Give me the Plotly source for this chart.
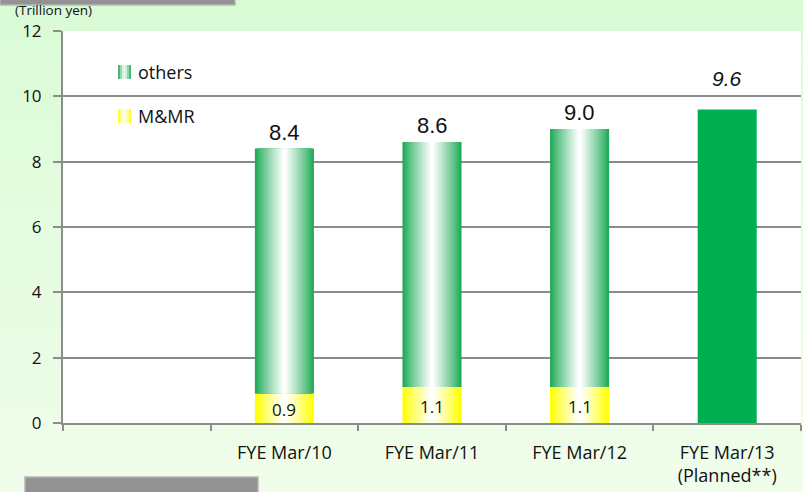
import plotly.graph_objects as go

# ---------------------------------------------------------------------------
# Data
# ---------------------------------------------------------------------------

categories = ["", "FYE Mar/10", "FYE Mar/11", "FYE Mar/12", "FYE Mar/13<br>(Planned**)"]
actual_years = ["FYE Mar/10", "FYE Mar/11", "FYE Mar/12"]
mmr_values = [0.9, 1.1, 1.1]
total_values = [8.4, 8.6, 9.0]
planned_year = ["FYE Mar/13<br>(Planned**)"]
planned_total = [9.6]

others_values = [round(t - m, 2) for t, m in zip(total_values, mmr_values)]

# ---------------------------------------------------------------------------
# Style helpers
# ---------------------------------------------------------------------------

GREEN = (31, 171, 87)
YELLOW = (255, 255, 0)
WHITE = (255, 255, 255)
BG_TOP = (218, 251, 214)
BG_BOTTOM = (240, 253, 234)
PLANNED_GREEN = "#00b050"
GRID = "#8c8c8c"
FONT = "Open Sans, Lato"
BAR_WIDTH = 0.4
STEPS = 16

W, H = 803, 492
# plot area in pixels (for paper-coordinate decorations)
PL, PR, PT, PB = 63, 801, 31, 423


def mix(c1, c2, t):
    return "rgb({},{},{})".format(*[round(a + (b - a) * t) for a, b in zip(c1, c2)])


def px_x(x):
    return (x - PL) / (PR - PL)


def px_y(y):
    return (PB - y) / (PB - PT)


def gradient_bars(fig, x, y, base, edge):
    """Horizontal edge->white->edge gradient faked with overlaid bars."""
    for k in range(STEPS):
        t = k / (STEPS - 1)
        fig.add_trace(
            go.Bar(
                x=x,
                y=y,
                base=base,
                width=BAR_WIDTH * (1 - k / STEPS),
                marker=dict(color=mix(edge, WHITE, t ** 0.9), line=dict(width=0)),
                showlegend=False,
                hoverinfo="skip",
            )
        )


fig = go.Figure()

# invisible trace so the empty first category keeps its slot
fig.add_trace(go.Bar(x=categories, y=[None] * len(categories), showlegend=False, hoverinfo="skip"))

gradient_bars(fig, actual_years, mmr_values, [0] * len(mmr_values), YELLOW)
gradient_bars(fig, actual_years, others_values, mmr_values, GREEN)

fig.add_trace(
    go.Bar(
        x=planned_year,
        y=planned_total,
        width=BAR_WIDTH,
        marker=dict(color=PLANNED_GREEN, line=dict(width=0)),
        showlegend=False,
        hoverinfo="skip",
    )
)

annotations = []
for x, t in zip(actual_years, total_values):
    annotations.append(dict(
        x=x, y=t, text=f"{t:.1f}", showarrow=False, yanchor="bottom", yshift=2,
        font=dict(family="Liberation Sans, Arial", size=22, color="#111"),
    ))
for x, t in zip(planned_year, planned_total):
    annotations.append(dict(
        x=x, y=t, text=f"<i>{t:.1f}</i>", showarrow=False, yanchor="bottom", yshift=17,
        font=dict(family="Liberation Sans, Arial", size=21, color="#111"),
    ))
for x, m in zip(actual_years, mmr_values):
    annotations.append(dict(
        x=x, y=m / 2, text=f"{m:.1f}", showarrow=False, yanchor="middle", yshift=-1,
        font=dict(family=FONT, size=17, color="#111"),
    ))

annotations.append(dict(
    xref="paper", yref="paper", x=px_x(13), y=px_y(9.5), xanchor="left", yanchor="middle",
    text="(Trillion yen)", showarrow=False,
    font=dict(family=FONT, size=13.5, color="#111"),
))

shapes = []

# soft vertical background gradient, then white plot area on top of it
BANDS = 24
for i in range(BANDS):
    shapes.append(dict(
        type="rect", xref="paper", yref="paper",
        x0=px_x(0), x1=px_x(W), y0=px_y(H * (i + 1) / BANDS), y1=px_y(H * i / BANDS),
        fillcolor=mix(BG_TOP, BG_BOTTOM, i / (BANDS - 1)), line=dict(width=0), layer="below",
    ))
shapes.append(dict(
    type="rect", xref="paper", yref="paper", x0=0, x1=1, y0=0, y1=1,
    fillcolor="white", line=dict(width=0), layer="below",
))

# hand-drawn legend
for label, edge, ytop in [("others", GREEN, 65), ("M&MR", YELLOW, 109)]:
    n = 6
    x0, x1 = 118, 131
    for i in range(n):
        c = abs((i + 0.5) / n - 0.5) * 2
        shapes.append(dict(
            type="rect", xref="paper", yref="paper",
            x0=px_x(x0 + (x1 - x0) * i / n), x1=px_x(x0 + (x1 - x0) * (i + 1) / n),
            y0=px_y(ytop + 14), y1=px_y(ytop),
            fillcolor=mix(WHITE, edge, c), line=dict(width=0),
        ))
    annotations.append(dict(
        xref="paper", yref="paper", x=px_x(136), y=px_y(ytop + 7), xanchor="left",
        yanchor="middle", text=label, showarrow=False,
        font=dict(family=FONT, size=18, color="#111"),
    ))

# decorative grey bars top and bottom left
for (x0, x1, y0, y1) in [(0, 235, -2, 5), (25, 258, 477, 494)]:
    shapes.append(dict(
        type="rect", xref="paper", yref="paper",
        x0=px_x(x0), x1=px_x(x1), y0=px_y(y1), y1=px_y(y0),
        fillcolor="#929292", line=dict(color="#b5b5b5", width=1.5), layer="below",
    ))

fig.update_layout(
    width=W,
    height=H,
    barmode="overlay",
    paper_bgcolor=mix(BG_TOP, BG_BOTTOM, 0.5),
    plot_bgcolor="white",
    margin=dict(l=PL, r=W - PR, t=PT, b=H - PB),
    annotations=annotations,
    shapes=shapes,
    xaxis=dict(
        categoryorder="array",
        categoryarray=categories,
        range=[-0.5, 4.5],
        tickson="boundaries",
        ticks="outside",
        ticklen=6,
        tickcolor=GRID,
        tickwidth=1.5,
        ticklabelstandoff=12,
        showline=True,
        linecolor=GRID,
        linewidth=2,
        showgrid=False,
        tickfont=dict(family=FONT, size=18, color="#111"),
    ),
    yaxis=dict(
        range=[0, 12],
        dtick=2,
        ticks="outside",
        ticklen=8,
        tickcolor=GRID,
        tickwidth=1.5,
        ticklabelstandoff=8,
        showline=True,
        linecolor=GRID,
        linewidth=2,
        gridcolor=GRID,
        gridwidth=1.5,
        zeroline=False,
        tickfont=dict(family=FONT, size=17, color="#111"),
    ),
)

fig.write_html(
    "out.html",
    config={"displayModeBar": False},
    post_script="document.body.style.margin='0';document.documentElement.style.overflow='hidden';",
)
